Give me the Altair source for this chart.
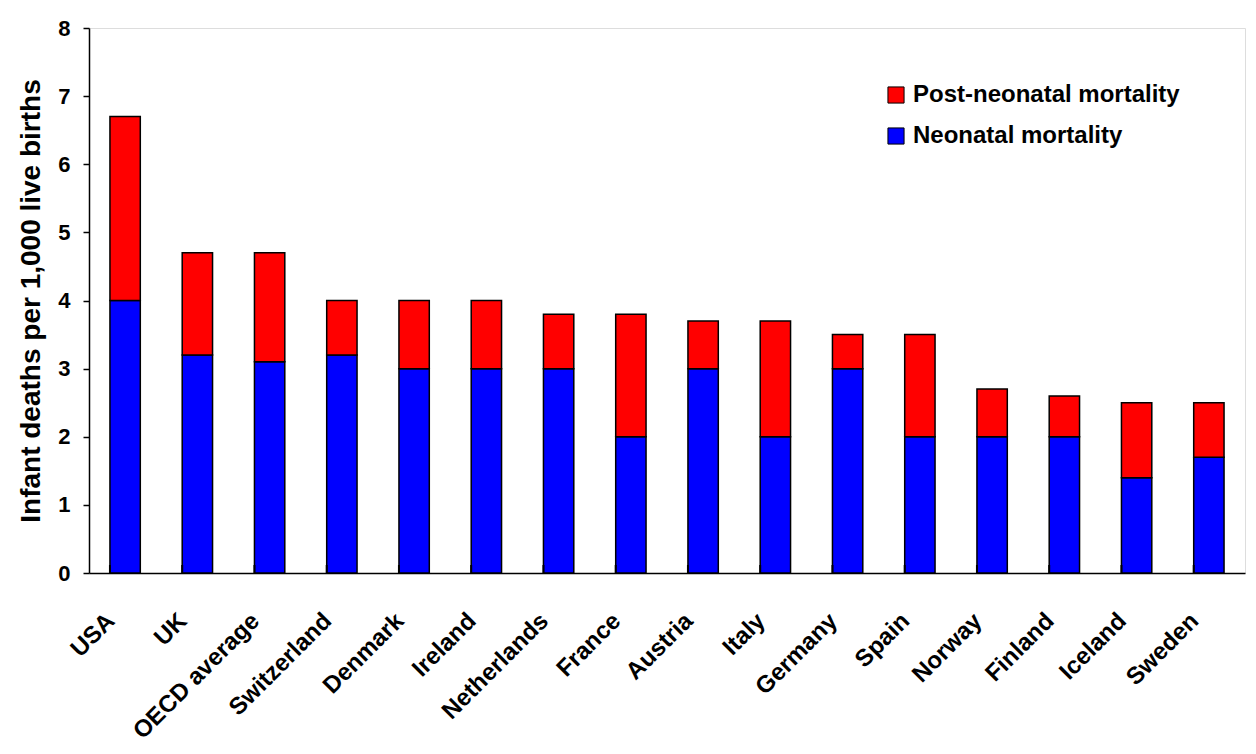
import altair as alt
import pandas as pd

countries = ["USA", "UK", "OECD average", "Switzerland", "Denmark", "Ireland",
             "Netherlands", "France", "Austria", "Italy", "Germany", "Spain",
             "Norway", "Finland", "Iceland", "Sweden"]
neonatal = [4.0, 3.2, 3.1, 3.2, 3.0, 3.0, 3.0, 2.0, 3.0, 2.0, 3.0, 2.0, 2.0, 2.0, 1.4, 1.7]
total = [6.7, 4.7, 4.7, 4.0, 4.0, 4.0, 3.8, 3.8, 3.7, 3.7, 3.5, 3.5, 2.7, 2.6, 2.5, 2.5]

series = ["Post-neonatal mortality", "Neonatal mortality"]
colors = ["#FF0000", "#0000FF"]

rows = []
for c, n, t in zip(countries, neonatal, total):
    rows.append({"country": c, "series": "Neonatal mortality", "value": n, "ord": 0})
    rows.append({"country": c, "series": "Post-neonatal mortality", "value": round(t - n, 2), "ord": 1})
df = pd.DataFrame(rows)
tick_df = pd.DataFrame({"country": countries})

FONT = "Liberation Sans"

x_enc = alt.X("country:N", sort=countries, title=None,
              scale=alt.Scale(paddingInner=0.58, paddingOuter=0.29),
              axis=alt.Axis(labelAngle=-45, labelAlign="right", labelBaseline="middle",
                            labelFontSize=24, labelFontWeight="bold", labelFont=FONT,
                            labelColor="black", labelPadding=44, labelOffset=-14,
                            labelLimit=300, ticks=False,
                            domainColor="black", domainWidth=1.5))

bars = alt.Chart(df).mark_bar(stroke="black", strokeWidth=1.5).encode(
    x=x_enc,
    y=alt.Y("value:Q", stack="zero",
            scale=alt.Scale(domain=[0, 8]),
            title="Infant deaths per 1,000 live births",
            axis=alt.Axis(values=[0, 1, 2, 3, 4, 5, 6, 7, 8], grid=False,
                          labelFontSize=22, labelFontWeight="bold", labelFont=FONT,
                          labelColor="black", labelPadding=13,
                          tickSize=6, tickColor="black", tickWidth=1.5,
                          domainColor="black", domainWidth=1.5,
                          titleFontSize=28, titleFontWeight="bold", titleFont=FONT,
                          titleColor="black", titlePadding=12)),
    color=alt.Color("series:N", scale=alt.Scale(domain=series, range=colors),
                    legend=alt.Legend(title=None, orient="none", legendX=795, legendY=55,
                                      labelFontSize=24, labelFontWeight="bold", labelFont=FONT,
                                      labelColor="black", labelLimit=400,
                                      symbolType="square", symbolSize=260,
                                      symbolStrokeColor="black", symbolStrokeWidth=1,
                                      rowPadding=17, labelOffset=5)),
    order=alt.Order("ord:Q", sort="ascending"),
)

ticks = alt.Chart(tick_df).mark_rule(color="black", strokeWidth=2).encode(
    x=alt.X("country:N", sort=countries, bandPosition=0),
    y=alt.value(537),
    y2=alt.value(545),
)

chart = alt.layer(bars, ticks).properties(
    width=1156, height=545,
    autosize=alt.AutoSizeParams(type="none"),
    padding={"left": 89, "top": 28, "right": 11, "bottom": 181},
).configure_view(strokeWidth=0, stroke="transparent").configure(background="white")

chart.save("out.html", embed_options={"renderer": "svg", "actions": False})
